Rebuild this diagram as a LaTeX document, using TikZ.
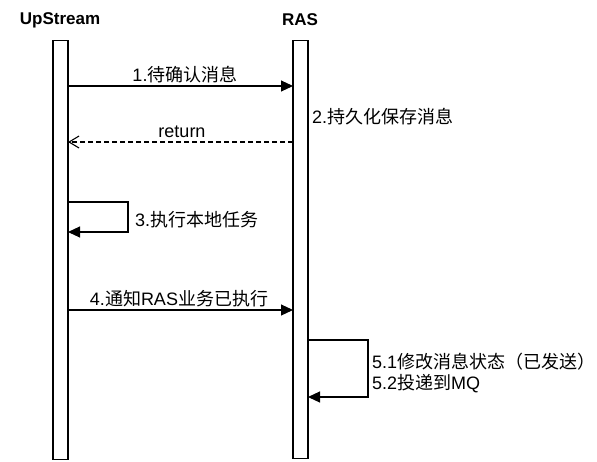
\documentclass[tikz,border=0pt]{standalone}
\usepackage{fontspec}
\setmainfont{Liberation Sans}
\newfontfamily\cjk{Noto Sans CJK SC}
\usetikzlibrary{arrows.meta}
\begin{document}
\begin{tikzpicture}[x=1pt,y=-1pt,
  lifebar/.style={draw,line width=1.1pt,fill=white},
  msg/.style={line width=1.1pt,-{Triangle[length=12pt,width=11pt]}},
  retmsg/.style={line width=1.1pt,dash pattern=on 5pt off 3pt,-{Straight Barb[length=10pt,width=12pt,line width=1.1pt]}},
  lbl/.style={inner sep=0pt,font=\fontsize{18pt}{21pt}\selectfont},
  ttl/.style={inner sep=0pt,font=\fontsize{17pt}{20pt}\selectfont\bfseries}]
\useasboundingbox (0,0) rectangle (597,461);
% titles
\node[ttl] (tU) at (60,20) {UpStream};
\node[ttl] (tR) at (300,20) {RAS};
% lifelines
\node[lifebar,minimum width=15pt,minimum height=419pt,inner sep=0pt,anchor=north] (U) at (60.5,40) {};
\node[lifebar,minimum width=15pt,minimum height=418pt,inner sep=0pt,anchor=north] (R) at (300.5,40) {};
% coordinates
\coordinate (a1s) at (68,86);   \coordinate (a1e) at (293,86);
\coordinate (a2s) at (293,142); \coordinate (a2e) at (68,142);
\coordinate (l3a) at (68,202);  \coordinate (l3b) at (128,202);
\coordinate (l3c) at (128,232); \coordinate (l3d) at (68,232);
\coordinate (a4s) at (68,310);  \coordinate (a4e) at (293,310);
\coordinate (l5a) at (308,340); \coordinate (l5b) at (368,340);
\coordinate (l5c) at (368,397); \coordinate (l5d) at (308,397);
% messages
\draw[msg] (a1s) -- (a1e);
\draw[retmsg] (a2s) -- (a2e);
\draw[msg] (l3a) -- (l3b) -- (l3c) -- (l3d);
\draw[msg] (a4s) -- (a4e);
\draw[msg] (l5a) -- (l5b) -- (l5c) -- (l5d);
% labels
\node[lbl] (m1) at (185,75) {1.{\cjk 待确认消息}};
\node[lbl,anchor=west] (m2) at (312,117) {2.{\cjk 持久化保存消息}};
\node[lbl,anchor=base] (m2r) at (182,137) {return};
\node[lbl,anchor=west] (m3) at (135,220) {3.{\cjk 执行本地任务}};
\node[lbl] (m4) at (179,299) {4.{\cjk 通知}RAS{\cjk 业务已执行}};
\node[lbl,anchor=north west,align=left] (m5) at (372,353) {5.1{\cjk 修改消息状态（已发送）}\\5.2{\cjk 投递到}MQ};
\end{tikzpicture}
\end{document}
